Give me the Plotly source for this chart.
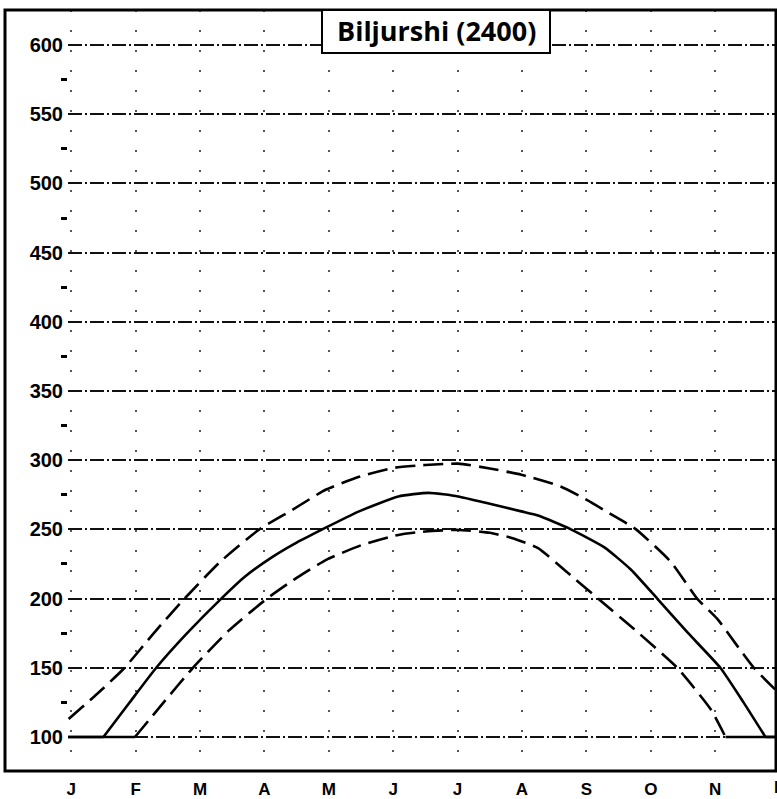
import plotly.graph_objects as go

# ---- data (month index: 0 = Jan ... 11 = Dec) ----
months = ["J", "F", "M", "A", "M", "J", "J", "A", "S", "O", "N", "D"]

upper_x = [-0.04, 0.4, 0.83, 1.3, 1.76, 2.3, 2.92, 3.43, 3.95, 4.47, 5.03, 5.5, 6.01,
           6.5, 6.99, 7.6, 8.02, 8.38, 8.77, 9.31, 9.72, 10.03, 10.34, 10.6, 10.96]
upper_y = [113, 131, 150, 176, 200, 226, 250, 264, 278.6, 288, 294.6, 296.5, 297.5,
           294, 289.5, 281, 271, 261, 250, 226.6, 200, 185.5, 166, 150, 133]

# solid (middle) curve: flat at 100, rising part, flat at 100
mid_flat_left_x = [-0.05, 0.5]
mid_flat_right_x = [10.78, 10.96]
mid_flat_y = [100, 100]
mid_x = [0.5, 0.9, 1.32, 1.8, 2.33, 2.7, 3.12, 3.5, 3.9, 4.47, 5.08, 5.55,
         6.01, 6.5, 6.99, 7.25, 7.76, 8.28, 8.69, 9.1, 9.57, 10.08, 10.44, 10.78]
mid_y = [100, 124.5, 150, 175, 200, 216, 230, 240.5, 250, 263, 273.8, 276.4,
         273.8, 268.5, 263, 260, 250, 237, 221, 200, 175.5, 150, 125, 100]

# lower dashed curve
low_flat_left_x = [-0.05, 0.99]
low_flat_right_x = [10.16, 10.96]
low_flat_y = [100, 100]
lower_x = [0.99, 1.4, 1.89, 2.45, 3.04, 3.5, 3.96, 4.5, 5.08, 5.5, 6.01, 6.5,
           6.84, 7.25, 7.7, 8.18, 8.74, 9.41, 9.93, 10.16]
lower_y = [100, 123, 150, 177, 200, 215, 228, 238.5, 246, 248.5, 249.6, 247.5,
           243.8, 236.5, 219, 200, 178, 150, 120, 100]

y_ticks = [100, 150, 200, 250, 300, 350, 400, 450, 500, 550, 600]
title_text = "Biljurshi (2400)"

# ---- layout geometry ----
W, H = 777, 799
ML, MR, MT, MB = 68, 0, 10, 28
x_range = [-0.05, 10.96]
y_range = [75.4, 625.3]
pw = W - ML - MR
ph = H - MT - MB


def px_to_paper_x(px):
    return (px - ML) / pw


def py_to_paper_y(py):
    return (H - MB - py) / ph


fig = go.Figure()

spline = dict(color="black", width=2.6, shape="spline", smoothing=0.5)
straight = dict(color="black", width=2.6)
dash = "20px,8px"


def add_line(x, y, line):
    fig.add_trace(go.Scatter(x=x, y=y, mode="lines", line=line,
                             hoverinfo="skip", showlegend=False))


add_line(upper_x, upper_y, dict(spline, dash=dash))

add_line(mid_flat_left_x, mid_flat_y, straight)
add_line(mid_x, mid_y, spline)
add_line(mid_flat_right_x, mid_flat_y, straight)

add_line(low_flat_left_x, low_flat_y, straight)
add_line(lower_x, lower_y, dict(spline, dash=dash))
add_line(low_flat_right_x, low_flat_y, straight)

font_family = "Liberation Sans, Arial, sans-serif"

fig.update_xaxes(
    range=x_range,
    tickvals=list(range(11)),
    ticktext=months[:11],
    ticks="",
    ticklabelstandoff=6,
    tickfont=dict(family=font_family, size=17, color="black", weight="bold"),
    showgrid=True,
    gridcolor="#555",
    gridwidth=1.5,
    griddash="2px,18px",
    zeroline=False,
    showline=False,
    fixedrange=True,
)
fig.update_yaxes(
    range=y_range,
    tickvals=y_ticks,
    ticks="",
    ticklabelstandoff=4,
    tickfont=dict(family=font_family, size=20, color="black", weight="bold"),
    showgrid=True,
    gridcolor="#111",
    gridwidth=2,
    griddash="14px,3px,2px,3px",
    zeroline=False,
    showline=False,
    minor=dict(tickvals=[v + 25 for v in y_ticks[:-1]], ticks="outside",
               ticklen=6, tickwidth=2.5, tickcolor="black", showgrid=False),
    fixedrange=True,
)

# outer frame
fig.add_shape(type="rect", xref="paper", yref="paper",
              x0=px_to_paper_x(5), x1=px_to_paper_x(776),
              y0=py_to_paper_y(771), y1=py_to_paper_y(10),
              line=dict(color="black", width=3), fillcolor="rgba(0,0,0,0)",
              layer="above")

# title box
fig.add_shape(type="rect", xref="paper", yref="paper",
              x0=px_to_paper_x(322), x1=px_to_paper_x(550),
              y0=py_to_paper_y(53), y1=py_to_paper_y(10),
              line=dict(color="black", width=2), fillcolor="white",
              layer="above")
fig.add_annotation(xref="paper", yref="paper",
                   x=px_to_paper_x(436), y=py_to_paper_y(31),
                   text=title_text, showarrow=False,
                   font=dict(family="Open Sans, sans-serif", size=27,
                             color="black", weight="bold"),
                   xanchor="center", yanchor="middle")

# December label (lies just past the visible edge)
d_paper = (11 - x_range[0]) / (x_range[1] - x_range[0])
fig.add_annotation(xref="paper", yref="paper", x=d_paper, y=py_to_paper_y(787),
                   text=months[11], showarrow=False,
                   font=dict(family=font_family, size=17, color="black", weight="bold"),
                   xanchor="center", yanchor="middle")

fig.update_layout(
    width=W, height=H,
    margin=dict(l=ML, r=MR, t=MT, b=MB, pad=0),
    paper_bgcolor="white",
    plot_bgcolor="white",
    showlegend=False,
)

fig.write_html("out.html",
               config={"displayModeBar": False},
               post_script="document.body.style.margin='0';"
                           "document.body.style.overflow='hidden';")
